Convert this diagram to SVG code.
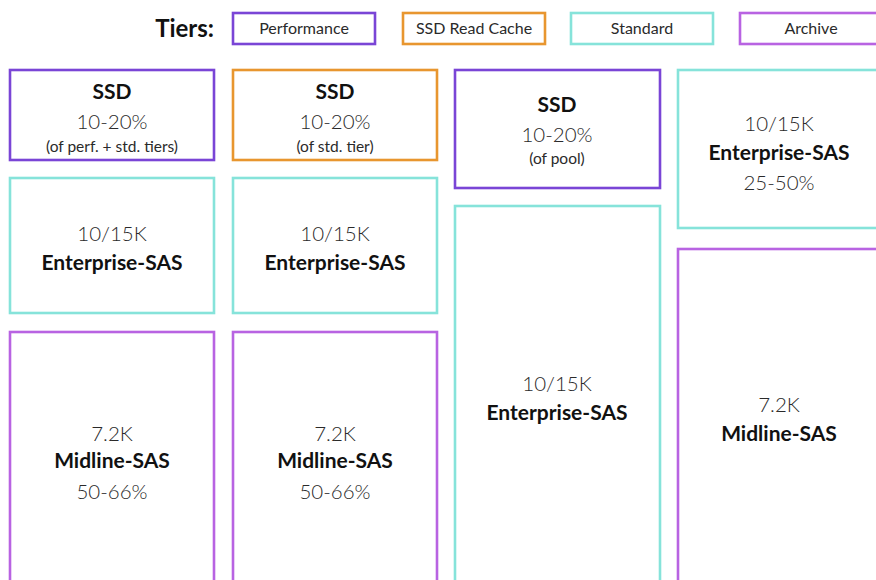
<svg xmlns="http://www.w3.org/2000/svg" width="876" height="580" viewBox="0 0 876 580">
  <style>
    .box { fill: #ffffff; stroke-width: 2.6; }
    .perf { stroke: #7a45d6; }
    .cache { stroke: #e8962f; }
    .std { stroke: #86e3da; }
    .arch { stroke: #b863e2; }
    text { font-family: Lato, "Noto Sans", "Liberation Sans", sans-serif; text-anchor: middle; fill: #222; }
    .bold { font-weight: 700; font-size: 21px; fill: #111; }
    .light { font-weight: 300; font-size: 20.5px; fill: #2a2a2a; }
    .small { font-weight: 400; font-size: 15.5px; fill: #2a2a2a; }
    .legend { font-weight: 400; font-size: 16px; fill: #2a2a2a; }
    .title { font-weight: 700; font-size: 24px; fill: #111; text-anchor: end; }
  </style>
  <rect width="876" height="580" fill="#ffffff"/>

  <!-- Legend -->
  <g id="legend">
    <text class="title" x="214" y="37">Tiers:</text>
    <rect class="box perf" x="233" y="13" width="142" height="31"/>
    <text class="legend" x="304" y="34">Performance</text>
    <rect class="box cache" x="403" y="13" width="142" height="31"/>
    <text class="legend" x="474" y="34">SSD Read Cache</text>
    <rect class="box std" x="571" y="13" width="142" height="31"/>
    <text class="legend" x="642" y="34">Standard</text>
    <rect class="box arch" x="740" y="13" width="142" height="31"/>
    <text class="legend" x="811" y="34">Archive</text>
  </g>

  <!-- Column 1: performance + standard + archive -->
  <g id="c1-ssd">
    <rect class="box perf" x="10" y="70" width="204" height="90"/>
    <text class="bold" x="112" y="99">SSD</text>
    <text class="light" x="112" y="129">10-20%</text>
    <text class="small" x="112" y="152">(of perf. + std. tiers)</text>
  </g>
  <g id="c1-sas">
    <rect class="box std" x="10" y="178" width="204" height="135"/>
    <text class="light" x="112" y="241">10/15K</text>
    <text class="bold" x="112" y="270">Enterprise-SAS</text>
  </g>
  <g id="c1-midline">
    <rect class="box arch" x="10" y="332" width="204" height="260"/>
    <text class="light" x="112" y="441">7.2K</text>
    <text class="bold" x="112" y="468">Midline-SAS</text>
    <text class="light" x="112" y="499">50-66%</text>
  </g>

  <!-- Column 2: read cache + standard + archive -->
  <g id="c2-ssd">
    <rect class="box cache" x="233" y="70" width="204" height="90"/>
    <text class="bold" x="335" y="99">SSD</text>
    <text class="light" x="335" y="129">10-20%</text>
    <text class="small" x="335" y="152">(of std. tier)</text>
  </g>
  <g id="c2-sas">
    <rect class="box std" x="233" y="178" width="204" height="135"/>
    <text class="light" x="335" y="241">10/15K</text>
    <text class="bold" x="335" y="270">Enterprise-SAS</text>
  </g>
  <g id="c2-midline">
    <rect class="box arch" x="233" y="332" width="204" height="260"/>
    <text class="light" x="335" y="441">7.2K</text>
    <text class="bold" x="335" y="468">Midline-SAS</text>
    <text class="light" x="335" y="499">50-66%</text>
  </g>

  <!-- Column 3: performance + standard -->
  <g id="c3-ssd">
    <rect class="box perf" x="455" y="70" width="205" height="118"/>
    <text class="bold" x="557" y="112">SSD</text>
    <text class="light" x="557" y="142">10-20%</text>
    <text class="small" x="557" y="164">(of pool)</text>
  </g>
  <g id="c3-sas">
    <rect class="box std" x="455" y="206" width="205" height="386"/>
    <text class="light" x="557" y="391">10/15K</text>
    <text class="bold" x="557" y="420">Enterprise-SAS</text>
  </g>

  <!-- Column 4: standard + archive -->
  <g id="c4-sas">
    <rect class="box std" x="678" y="70" width="210" height="158"/>
    <text class="light" x="779" y="131">10/15K</text>
    <text class="bold" x="779" y="160">Enterprise-SAS</text>
    <text class="light" x="779" y="190">25-50%</text>
  </g>
  <g id="c4-midline">
    <rect class="box arch" x="678" y="249" width="210" height="343"/>
    <text class="light" x="779" y="412">7.2K</text>
    <text class="bold" x="779" y="441">Midline-SAS</text>
  </g>

  <g id="connectors"/>
</svg>
